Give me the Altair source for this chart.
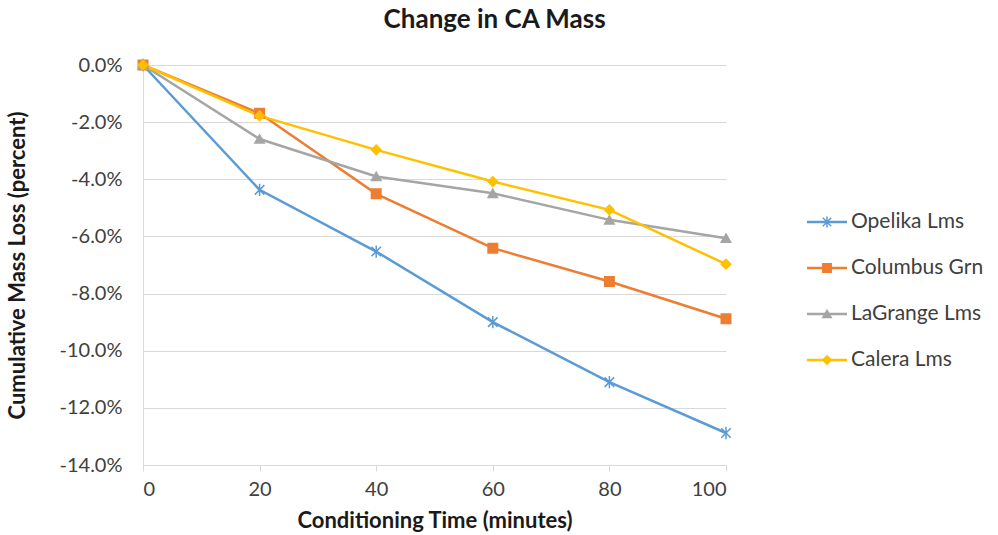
import altair as alt
import pandas as pd

# Conditioning time (minutes) and cumulative mass loss (%) per aggregate source
times = [0, 20, 40, 60, 80, 100]
series_names = ["Opelika Lms", "Columbus Grn", "LaGrange Lms", "Calera Lms"]
opelika = [0.0, -4.37, -6.53, -9.00, -11.10, -12.88]
columbus = [0.0, -1.69, -4.51, -6.41, -7.58, -8.88]
lagrange = [0.0, -2.59, -3.90, -4.49, -5.42, -6.06]
calera = [0.0, -1.78, -2.97, -4.08, -5.07, -6.97]

colors = ["#5B9BD5", "#ED7D31", "#A5A5A5", "#FFC000"]
shapes = [
    "M-1,-1L1,1M-1,1L1,-1M0,-1.3L0,1.3",  # asterisk
    "square",
    "triangle-up",
    "diamond",
]

FONT = "Lato"
LABEL_COLOR = "#404040"
TITLE_COLOR = "#1a1a1a"

rows = []
for name, vals in zip(series_names, [opelika, columbus, lagrange, calera]):
    for t, v in zip(times, vals):
        rows.append({"series": name, "time": t, "loss": v})
df = pd.DataFrame(rows)

color_scale = alt.Scale(domain=series_names, range=colors)
shape_scale = alt.Scale(domain=series_names, range=shapes)

x_enc = alt.X(
    "time:Q",
    scale=alt.Scale(domain=[0, 100], nice=False),
    axis=alt.Axis(
        values=times,
        title="Conditioning Time (minutes)",
        grid=False,
        domainColor="#D9D9D9",
        tickColor="#D9D9D9",
        tickSize=6,
        labelPadding=8,
        titlePadding=11,
        labelFontSize=20,
        titleFontSize=22,
    ),
)
y_enc = alt.Y(
    "loss:Q",
    scale=alt.Scale(domain=[-14, 0], nice=False),
    axis=alt.Axis(
        values=[0, -2, -4, -6, -8, -10, -12, -14],
        labelExpr="replace(format(datum.value, '.1f'), '\u2212', '-') + '%'",
        title="Cumulative Mass Loss (percent)",
        ticks=False,
        domainColor="#D9D9D9",
        gridColor="#D9D9D9",
        labelPadding=21,
        titlePadding=30,
        labelFontSize=20,
        titleFontSize=22,
    ),
)

lines = alt.Chart(df).mark_line(strokeWidth=2.5).encode(
    x=x_enc,
    y=y_enc,
    color=alt.Color("series:N", scale=color_scale, legend=None),
    detail="series:N",
)
points = alt.Chart(df).mark_point(filled=True, size=90, strokeWidth=1.5, opacity=1).encode(
    x="time:Q",
    y="loss:Q",
    color=alt.Color("series:N", scale=color_scale, legend=None),
    stroke=alt.Stroke("series:N", scale=color_scale, legend=None),
    shape=alt.Shape("series:N", scale=shape_scale, legend=None),
)
main = alt.layer(lines, points).properties(width=583, height=400)

# Legend panel: one row per series, line sample with marker and label
legend_df = pd.DataFrame({"series": series_names, "row": list(range(len(series_names)))})
leg_x = alt.Scale(domain=[0, 190], range=[0, 190], nice=False)
leg_y = alt.Scale(domain=[-3.413, 5.283], nice=False, reverse=True)
no_axis = None
base = alt.Chart(legend_df)
leg_line = base.mark_rule(strokeWidth=2.5).encode(
    x=alt.X("a:Q", scale=leg_x, axis=no_axis),
    x2="b:Q",
    y=alt.Y("row:Q", scale=leg_y, axis=no_axis),
    color=alt.Color("series:N", scale=color_scale, legend=None),
).transform_calculate(a="53", b="93")
leg_pt = base.mark_point(filled=True, size=70, strokeWidth=1.5, opacity=1).encode(
    x=alt.X("m:Q", scale=leg_x, axis=no_axis),
    y=alt.Y("row:Q", scale=leg_y, axis=no_axis),
    color=alt.Color("series:N", scale=color_scale, legend=None),
    stroke=alt.Stroke("series:N", scale=color_scale, legend=None),
    shape=alt.Shape("series:N", scale=shape_scale, legend=None),
).transform_calculate(m="73")
leg_txt = base.mark_text(align="left", baseline="middle", fontSize=21, font=FONT, color=LABEL_COLOR).encode(
    x=alt.X("t:Q", scale=leg_x, axis=no_axis),
    y=alt.Y("row:Q", scale=leg_y, axis=no_axis),
    text="series:N",
).transform_calculate(t="97")
legend = alt.layer(leg_line, leg_pt, leg_txt).properties(width=190, height=400)

chart = alt.hconcat(main, legend, spacing=20).properties(
    title=alt.TitleParams("Change in CA Mass", anchor="middle", fontSize=26, font=FONT,
                          fontWeight="bold", color=TITLE_COLOR, offset=22),
    padding={"left": 6, "top": 7, "right": 5, "bottom": 1},
).configure_axis(
    labelFont=FONT, titleFont=FONT, labelColor=LABEL_COLOR, titleColor=TITLE_COLOR,
    titleFontWeight="bold",
).configure_view(stroke=None)

chart.save("out.html", embed_options={"renderer": "svg", "actions": False})
